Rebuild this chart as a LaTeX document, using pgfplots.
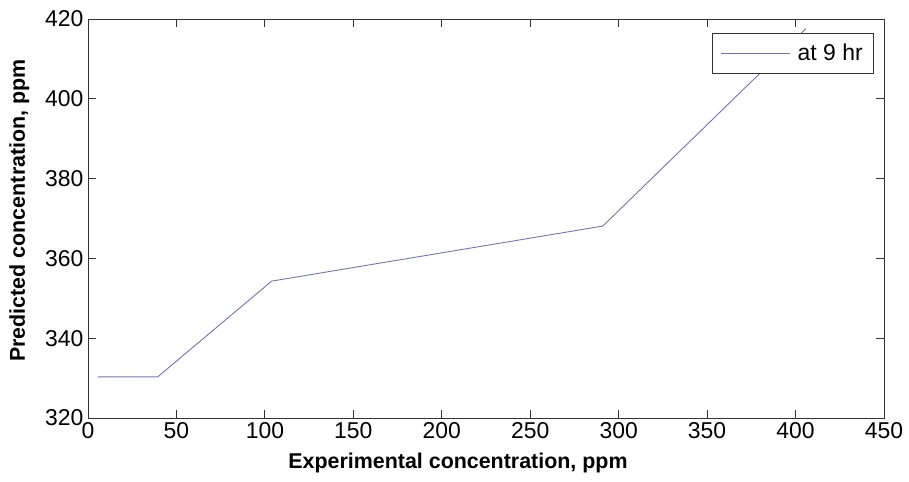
\documentclass[border=0pt]{standalone}
\usepackage{pgfplots}
\pgfplotsset{compat=1.18}
\usepackage{fontspec}
\setmainfont{Liberation Sans}
\definecolor{lineblue}{rgb}{0.45,0.45,0.72}
\definecolor{axgray}{rgb}{0.2,0.2,0.2}
\begin{document}
\begin{tikzpicture}[x=1bp,y=1bp]
\begin{axis}[
  at={(0,0)}, anchor=south west,
  scale only axis, width=796bp, height=399bp,
  xmin=0, xmax=450, ymin=320, ymax=420,
  xtick={0,50,...,450}, ytick={320,340,...,420},
  tick align=inside, major tick length=8bp,
  axis line style={axgray, line width=0.8bp},
  every tick/.style={axgray, line width=0.8bp},
  /pgf/number format/assume math mode=true,
  tick label style={font=\fontsize{23}{26}\selectfont},
  xticklabel style={yshift=-1bp},
  yticklabel style={xshift=-1bp},
  xlabel={\textbf{Experimental concentration, ppm}},
  ylabel={\textbf{Predicted concentration, ppm}},
  label style={font=\fontsize{21.5}{25}\selectfont},
  xlabel style={at={([xshift=-28bp,yshift=-50bp]axis description cs:0.5,0)}, anchor=base},
  ylabel style={at={([xshift=-63bp,yshift=8bp]axis description cs:0,0.5)}, anchor=base, rotate=0},
  legend style={at={(rel axis cs:0.9875,0.965)}, anchor=north east,
    font=\fontsize{23}{26}\selectfont, draw=axgray, line width=0.8bp,
    inner xsep=9bp, inner ysep=9bp},
  legend cell align=left,
  legend image code/.code={\draw[#1, line width=0.8bp] (0bp,0bp) -- (69bp,0bp);},
]
\addplot[lineblue, line width=0.9bp] coordinates {
  (5.5,330.3) (39.4,330.3) (103.8,354.3) (291,368.1) (405.9,417.6)
};
\addlegendentry{\hspace{5bp}at 9 hr}
\end{axis}
\useasboundingbox (-88bp,-64bp) rectangle (821bp,418bp);
\end{tikzpicture}
\end{document}
